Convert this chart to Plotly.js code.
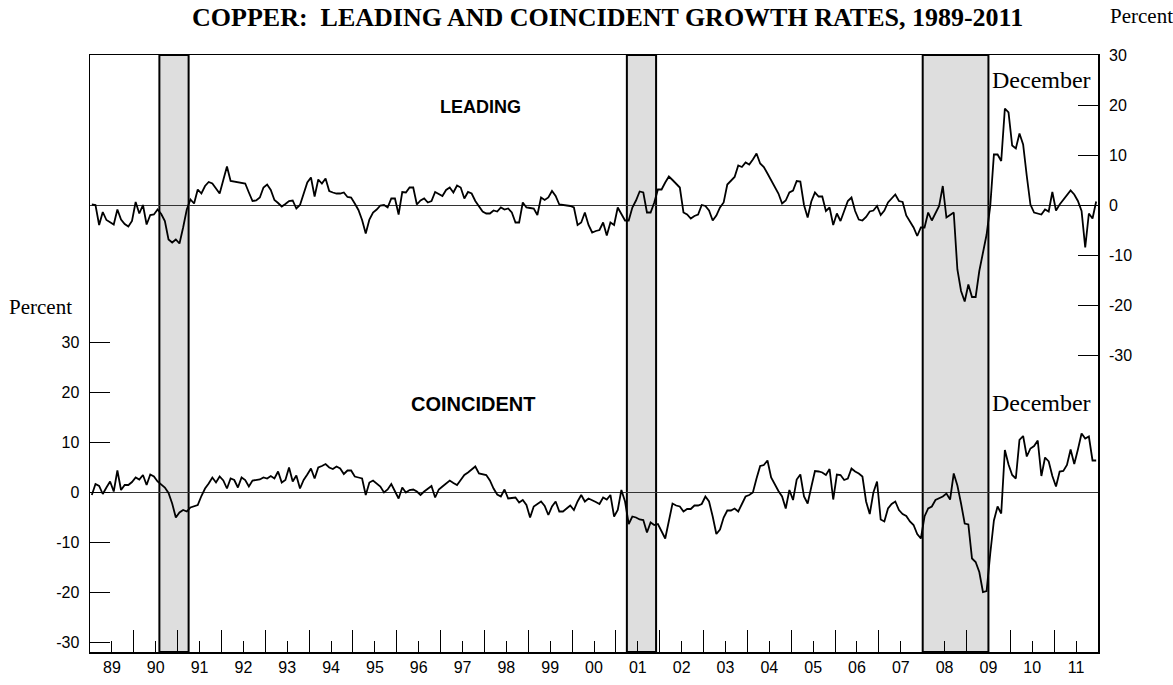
<!DOCTYPE html>
<html>
<head>
<meta charset="utf-8">
<script src="https://cdn.plot.ly/plotly-3.0.1.min.js"></script>
<style>html,body{margin:0;padding:0;background:#fff;}#chart{width:1173px;height:685px;}</style>
</head>
<body>
<div id="chart"></div>
<script>
// Monthly data, January 1989 - December 2011
const startYear = 1989;
const leading = [
 0.1, 0, -4.0, -1.4, -3.0, -3.5, -3.9, -0.9, -2.9, -3.8, -4.3, -3.2,
 0.6, -1.7, 0, -3.9, -2.0, -1.9, -0.9, -1.8, -3.2, -6.9, -7.5, -6.9,
 -7.7, -4.5, -0.9, 1.1, 0.3, 3.1, 2.3, 3.8, 4.6, 4.3, 3.3, 2.3,
 5.0, 7.7, 4.8, 4.7, 4.6, 4.4, 4.3, 2.5, 0.8, 0.9, 1.5, 3.5,
 4.1, 3.0, 1.0, 0.4, -0.3, 0.2, 0.8, 0.9, -0.7, 0, 2.5, 4.5,
 5.5, 1.7, 5.1, 4.3, 5.3, 2.8, 2.5, 2.3, 2.3, 2.5, 1.6, 1.5,
 0.3, -1.0, -3.0, -5.7, -2.9, -1.5, -0.9, -0.1, 0, -0.5, 1.3, 1.3,
 -1.9, 2.6, 2.5, 3.5, 3.5, 0.1, 0.9, 1.3, 0.5, 0.8, 2.6, 2.2,
 1.8, 3.0, 3.5, 2.5, 3.9, 3.5, 1.3, 2.6, 2.3, 0.8, -0.3, -1.3,
 -1.7, -1.7, -1.1, -1.3, -0.5, -0.9, -0.7, -1.5, -3.5, -3.5, 0.5, -0.5,
 -0.6, -0.7, -2.0, 1.5, 1.0, 1.5, 2.8, 1.8, 0.1, 0, -0.1, -0.2,
 -0.5, -4.0, -3.5, -1.5, -4.0, -5.5, -5.2, -5.0, -3.5, -6.1, -3.5, -4.0,
 -0.5, -1.9, -3.1, -3.1, -0.5, 0.9, 2.7, 2.5, -1.5, -1.5, 0.5, 3.1,
 3.1, 4.5, 5.7, 5.0, 4.2, 3.5, -1.5, -1.9, -2.7, -2.2, -1.9, 0,
 -0.2, -1.1, -3.1, -2.1, -0.5, 0.5, 4.1, 4.8, 5.6, 7.9, 7.6, 8.5,
 8.1, 9.1, 10.3, 8.3, 7.6, 6.3, 5.0, 3.5, 2.3, 0.3, 0.9, 2.5,
 2.9, 4.8, 4.7, 0, -2.5, 0.7, 2.5, 1.7, 1.7, -1.2, -0.5, -4.0,
 -1.7, -3.2, -1.2, 0.8, 1.5, -1.2, -2.9, -3.1, -2.4, -1.3, -1.1, -0.2,
 -2.0, -1.1, 0.5, 1.3, 2.1, 0.8, 0.6, -2.1, -3.2, -4.5, -6.2, -4.5,
 -4.5, -1.5, -3.1, -1.5, -0.2, 3.8, -2.5, -2.0, -1.5, -12.9, -17.2, -19.3,
 -15.9, -18.4, -18.4, -13.2, -9.5, -5.9, -0.2, 10.1, 10.1, 8.8, 19.3, 18.5,
 11.9, 11.3, 14.3, 12.1, 5.8, 0.1, -1.5, -1.7, -1.9, -0.9, -1.3, 2.6,
 -1.1, 0.1, 1.1, 2.1, 2.9, 2.1, 0.8, -1.2, -8.5, -1.7, -2.7, 0.7
];
const coincident = [
 -0.6, 1.6, 1.2, -0.4, 0.9, 2.1, 0.1, 4.3, 0.4, 1.4, 1.4, 2.0,
 2.9, 2.5, 3.4, 1.4, 3.5, 3.1, 2.1, 1.5, 0.9, -0.2, -2.3, -5.1,
 -4.1, -3.6, -3.9, -3.1, -2.8, -2.6, -0.8, 0.7, 1.7, 2.9, 1.9, 3.1,
 2.3, 0.7, 2.7, 2.4, 0.9, 2.9, 2.4, 1.1, 2.3, 2.4, 2.5, 2.9,
 2.7, 3.2, 2.7, 4.1, 1.9, 2.4, 4.9, 2.1, 3.3, 0.7, 2.4, 3.5,
 4.7, 2.7, 4.9, 5.2, 5.6, 4.9, 4.6, 5.1, 4.7, 3.6, 4.3, 4.3,
 3.1, 2.9, 2.7, -0.6, 1.9, 2.3, 1.6, 1.1, -0.1, 0.5, 1.6, 0.1,
 -1.3, 0.9, -0.1, 0.4, 0.5, 0.1, -0.6, 0.1, 0.6, 1.2, -1.1, 0.5,
 1.1, 1.7, 2.3, 1.8, 1.4, 2.4, 3.4, 3.9, 4.5, 5.1, 3.7, 3.5,
 3.4, 2.3, 0.7, -0.5, -0.9, 0.5, -1.3, -1.2, -1.1, -2.1, -1.6, -2.6,
 -5.1, -2.9, -2.4, -1.9, -2.8, -4.6, -2.9, -1.9, -3.9, -3.9, -3.3, -2.7,
 -3.6, -1.9, -0.6, -1.9, -1.3, -1.6, -2.0, -2.4, -1.1, -1.5, -0.6, -4.9,
 -3.6, 0.4, -1.9, -6.4, -4.9, -5.1, -5.5, -5.6, -8.1, -6.1, -6.6, -6.4,
 -7.9, -9.3, -5.8, -2.3, -2.7, -2.9, -3.9, -3.4, -3.4, -2.7, -2.7, -2.4,
 -0.9, -1.9, -4.9, -8.4, -7.5, -5.1, -3.7, -3.7, -3.3, -3.9, -2.4, -0.9,
 -0.6, -0.1, 2.7, 5.2, 5.4, 6.3, 2.9, 1.4, 0.2, -0.9, -3.3, 0.4,
 -1.6, 2.5, 3.5, -0.9, -2.3, 1.0, 4.2, 4.1, 3.9, 3.4, 4.6, -1.5,
 3.5, 3.4, 2.4, 2.7, 4.7, 4.1, 3.7, 3.1, -1.9, -4.4, -0.1, 2.1,
 -5.5, -5.9, -3.3, -2.4, -1.9, -3.6, -4.4, -4.8, -5.9, -6.6, -8.4, -9.3,
 -4.9, -3.3, -2.9, -1.6, -1.2, -0.9, -0.3, -1.5, 3.7, 1.3, -2.3, -6.3,
 -6.5, -13.3, -14.0, -16.0, -20.0, -19.8, -12.3, -5.7, -2.9, -4.3, 8.4, 5.5,
 3.4, 2.7, 10.4, 11.2, 7.1, 8.7, 9.2, 10.3, 3.2, 6.9, 6.1, 3.2,
 1.1, 4.1, 4.2, 5.4, 8.5, 5.6, 8.5, 11.7, 10.7, 11.1, 6.3, 6.3
];
const yearLabels = ['89','90','91','92','93','94','95','96','97','98','99','00','01','02','03','04','05','06','07','08','09','10','11'];
const recessionStart = [1990 + 7/12, 2001 + 3/12, 2008.0];
const recessionEnd   = [1991 + 3/12, 2001 + 11/12, 2009.5];
const yTicks = [-30, -20, -10, 0, 10, 20, 30];
const yTickText = ['-30', '-20', '-10', '0', '10', '20', '30'];

const months = leading.map((_, i) => startYear + (i + 0.5) / 12);
const midYears = yearLabels.map((_, k) => startYear + k + 0.5);
const yearBounds = yearLabels.slice(1).map((_, k) => startYear + k + 1);

const sans = 'Liberation Sans, Arial, sans-serif';
const serif = 'Liberation Serif, Times New Roman, serif';

const traces = [
  {x: months, y: leading, type: 'scatter', mode: 'lines', yaxis: 'y2',
   line: {color: '#000', width: 1.8}, hoverinfo: 'skip'},
  {x: months, y: coincident, type: 'scatter', mode: 'lines', yaxis: 'y',
   line: {color: '#000', width: 1.8}, hoverinfo: 'skip'}
];

const shapes = recessionStart.map((s, k) => ({
  type: 'rect', xref: 'x', yref: 'paper', x0: s, x1: recessionEnd[k], y0: 0, y1: 1,
  fillcolor: '#dedede', line: {color: '#000', width: 2}, layer: 'below'
}));

function note(text, x, y, size, family) {
  return {text: text, xref: 'paper', yref: 'paper', x: x, y: y, xanchor: 'center', yanchor: 'middle',
          showarrow: false, font: {family: family, size: size, color: '#000'}};
}

const layout = {
  width: 1173, height: 685,
  margin: {l: 90, r: 75, t: 55, b: 33},
  paper_bgcolor: '#fff', plot_bgcolor: '#fff',
  showlegend: false,
  title: {text: 'COPPER:\u00a0 LEADING AND COINCIDENT GROWTH RATES, 1989-2011',
          font: {family: serif, size: 26, color: '#000', weight: 'bold'},
          x: 0.518, xanchor: 'center', y: 1 - 17/685, yanchor: 'middle'},
  xaxis: {range: [1989, 2012], showline: true, mirror: true, linecolor: '#000', linewidth: 1.5,
          showgrid: false, zeroline: false, tickmode: 'array', tickvals: midYears, ticktext: yearLabels,
          ticks: 'inside', ticklen: 11, tickwidth: 1, tickcolor: '#000',
          tickfont: {family: sans, size: 16, color: '#000'},
          minor: {tickmode: 'array', tickvals: yearBounds, ticks: 'inside', ticklen: 22, tickwidth: 1, tickcolor: '#000', showgrid: false}},
  yaxis: {range: [-32, 87.4], showline: true, mirror: true, linecolor: '#000', linewidth: 1.5,
          showgrid: false, zeroline: true, zerolinecolor: '#333', zerolinewidth: 1,
          tickmode: 'array', tickvals: yTicks, ticktext: yTickText, ticks: 'inside', ticklen: 20, tickwidth: 1, tickcolor: '#000',
          ticklabelstandoff: 6,
          tickfont: {family: sans, size: 16, color: '#000'}},
  yaxis2: {range: [-89.4, 30], overlaying: 'y', side: 'right', showline: false,
          showgrid: false, zeroline: true, zerolinecolor: '#333', zerolinewidth: 1,
          tickmode: 'array', tickvals: yTicks, ticktext: yTickText, ticks: 'inside', ticklen: 20, tickwidth: 1, tickcolor: '#000',
          ticklabelstandoff: 10,
          tickfont: {family: sans, size: 16, color: '#000'}},
  shapes: shapes,
  annotations: [
    note('Percent', 1.0427, 1.0653, 21, serif),
    note('Percent', -0.0496, 0.578, 21, serif),
    note('<b>LEADING</b>', 0.387, 0.913, 18, sans),
    note('<b>COINCIDENT</b>', 0.380, 0.415, 20, sans),
    note('December', 0.944, 0.958, 24, serif),
    note('December', 0.944, 0.417, 24, serif)
  ]
};

Plotly.newPlot('chart', traces, layout, {staticPlot: true, displayModeBar: false});
</script>
</body>
</html>
